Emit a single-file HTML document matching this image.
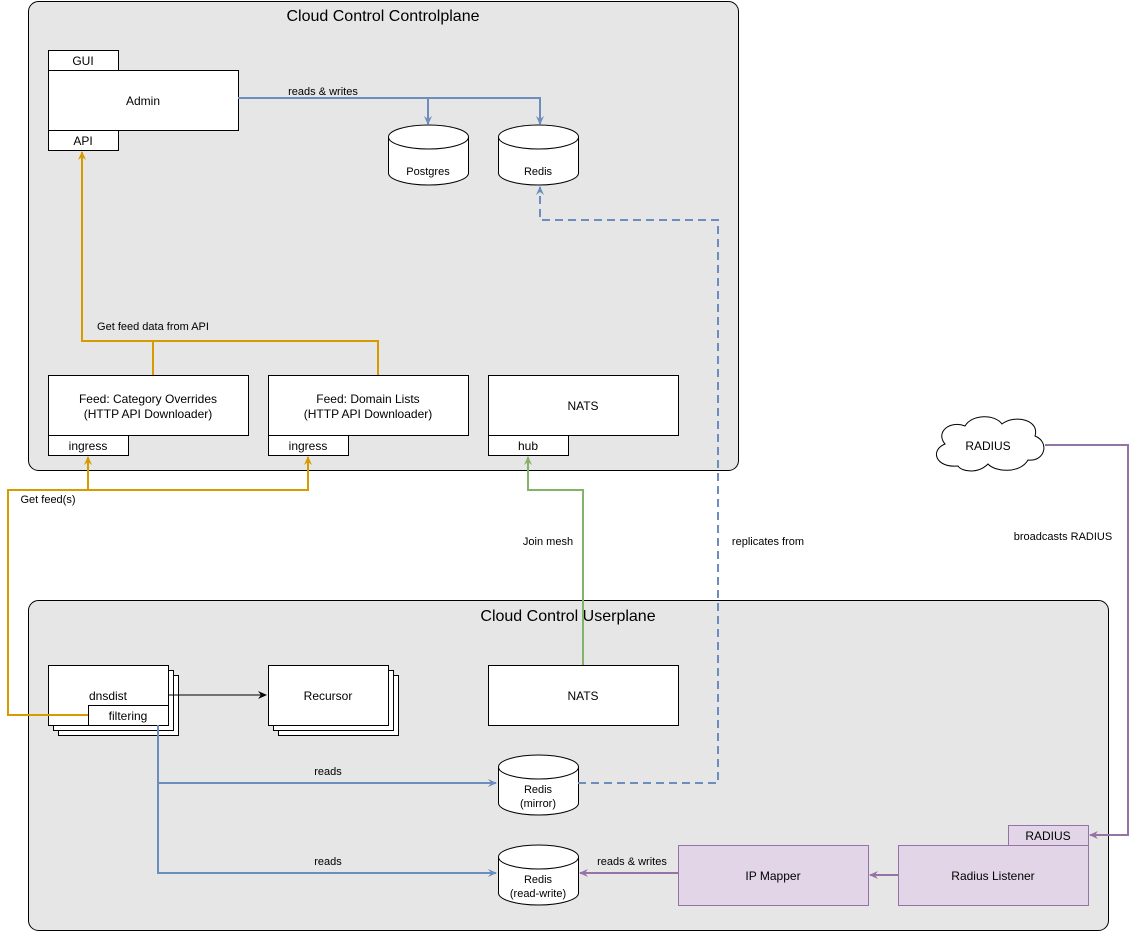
<!DOCTYPE html>
<html><head><meta charset="utf-8"><style>body{margin:0;background:#fff}svg{display:block}text{font-family:"Liberation Sans",Arial,sans-serif}</style></head>
<body>
<svg width="1141" height="931" viewBox="0 0 1141 931" xmlns="http://www.w3.org/2000/svg">
<defs>
<marker id="ab" markerWidth="10" markerHeight="10" refX="8" refY="5" orient="auto" markerUnits="userSpaceOnUse"><path d="M0,1 L9,5 L0,9 L3,5z" fill="#6c8ebf"/></marker>
<marker id="ao" markerWidth="10" markerHeight="10" refX="8" refY="5" orient="auto" markerUnits="userSpaceOnUse"><path d="M0,1 L9,5 L0,9 L3,5z" fill="#d79b00"/></marker>
<marker id="ag" markerWidth="10" markerHeight="10" refX="8" refY="5" orient="auto" markerUnits="userSpaceOnUse"><path d="M0,1 L9,5 L0,9 L3,5z" fill="#82b366"/></marker>
<marker id="ap" markerWidth="10" markerHeight="10" refX="8" refY="5" orient="auto" markerUnits="userSpaceOnUse"><path d="M0,1 L9,5 L0,9 L3,5z" fill="#9673a6"/></marker>
<marker id="ak" markerWidth="10" markerHeight="10" refX="8" refY="5" orient="auto" markerUnits="userSpaceOnUse"><path d="M0,1 L9,5 L0,9 L3,5z" fill="#000"/></marker>
</defs>
<g font-size="12" text-anchor="middle">
<rect x="28.5" y="1.5" width="710" height="469" rx="10" fill="#e6e6e6" stroke="#000"/>
<text x="383" y="21" font-size="16">Cloud Control Controlplane</text>
<rect x="28.5" y="600.5" width="1080" height="330" rx="10" fill="#e6e6e6" stroke="#000"/>
<text x="568" y="621" font-size="16">Cloud Control Userplane</text>

<g fill="#fff" stroke="#000">
<rect x="48.5" y="50.5" width="70" height="20"/><rect x="48.5" y="70.5" width="190" height="60"/><rect x="48.5" y="130.5" width="70" height="20"/>
<rect x="48.5" y="375.5" width="200" height="60"/><rect x="48.5" y="435.5" width="80" height="20"/>
<rect x="268.5" y="375.5" width="200" height="60"/><rect x="268.5" y="435.5" width="80" height="20"/>
<rect x="488.5" y="375.5" width="190" height="60"/><rect x="488.5" y="435.5" width="80" height="20"/>
<rect x="58.5" y="675.5" width="120" height="60"/><rect x="53.5" y="670.5" width="120" height="60"/><rect x="48.5" y="665.5" width="120" height="60"/><rect x="88.5" y="705.5" width="80" height="20"/>
<rect x="278.5" y="675.5" width="120" height="60"/><rect x="273.5" y="670.5" width="120" height="60"/><rect x="268.5" y="665.5" width="120" height="60"/>
<rect x="488.5" y="665.5" width="190" height="60"/>
</g>
<g fill="#fff" stroke="#000">
<path d="M388.5,137 A40,12 0 0 1 468.5,137 V173 A40,12 0 0 1 388.5,173 Z"/><path d="M388.5,137 A40,12 0 0 0 468.5,137" fill="none"/>
<path d="M498.5,137 A40,12 0 0 1 578.5,137 V173 A40,12 0 0 1 498.5,173 Z"/><path d="M498.5,137 A40,12 0 0 0 578.5,137" fill="none"/>
<path d="M498.5,767 A40,12 0 0 1 578.5,767 V803 A40,12 0 0 1 498.5,803 Z"/><path d="M498.5,767 A40,12 0 0 0 578.5,767" fill="none"/>
<path d="M498.5,857 A40,12 0 0 1 578.5,857 V893 A40,12 0 0 1 498.5,893 Z"/><path d="M498.5,857 A40,12 0 0 0 578.5,857" fill="none"/>
</g>
<g fill="#e1d5e7" stroke="#9673a6">
<rect x="678.5" y="845.5" width="190" height="60"/><rect x="898.5" y="845.5" width="190" height="60"/><rect x="1008.5" y="825.5" width="80" height="20"/>
</g>
<path d="M958,466 C935,468 930,450 945,444 C935,432 950,420 965,426 C972,414 995,414 1002,424 C1015,414 1040,420 1035,436 C1050,442 1045,462 1028,460 C1020,474 995,472 988,464 C978,474 962,472 958,466 Z" fill="#fff" stroke="#000"/>

<g fill="#000">
<text x="83" y="65">GUI</text><text x="143" y="105">Admin</text><text x="83" y="145">API</text>
<text x="428" y="175" font-size="11">Postgres</text><text x="538" y="175" font-size="11">Redis</text>
<text x="148" y="403">Feed: Category Overrides</text><text x="148" y="418">(HTTP API Downloader)</text><text x="88" y="450">ingress</text>
<text x="368" y="403">Feed: Domain Lists</text><text x="368" y="418">(HTTP API Downloader)</text><text x="308" y="450">ingress</text>
<text x="583" y="410">NATS</text><text x="528" y="450">hub</text>
<text x="108" y="700">dnsdist</text><text x="128" y="720">filtering</text>
<text x="328" y="700">Recursor</text><text x="583" y="700">NATS</text>
<text x="538" y="793" font-size="11">Redis</text><text x="538" y="807" font-size="11">(mirror)</text>
<text x="538" y="883" font-size="11">Redis</text><text x="538" y="897" font-size="11">(read-write)</text>
<text x="773" y="880">IP Mapper</text><text x="993" y="880">Radius Listener</text><text x="1048" y="840">RADIUS</text>
<text x="988" y="450">RADIUS</text>
</g>
<g fill="none" stroke-width="2">
<path d="M238,98 H540 V124" stroke="#6c8ebf" marker-end="url(#ab)"/>
<path d="M428,98 V124" stroke="#6c8ebf" marker-end="url(#ab)"/>
<path d="M153,375 V341 H82 V152" stroke="#d79b00" marker-end="url(#ao)"/>
<path d="M378,375 V341 H153" stroke="#d79b00"/>
<path d="M88,715 H8 V490 H308 V457" stroke="#d79b00" marker-end="url(#ao)"/>
<path d="M88,490 V457" stroke="#d79b00" marker-end="url(#ao)"/>
<path d="M583,665 V490 H528 V457" stroke="#82b366" marker-end="url(#ag)"/>
<path d="M578,783 H718 V220 H540 V187" stroke="#6c8ebf" stroke-dasharray="8,5" marker-end="url(#ab)"/>
<path d="M158,725 V873 H496" stroke="#6c8ebf" marker-end="url(#ab)"/>
<path d="M158,783 H496" stroke="#6c8ebf" marker-end="url(#ab)"/>
<path d="M678,873 H580" stroke="#9673a6" marker-end="url(#ap)"/>
<path d="M898,875 H870" stroke="#9673a6" marker-end="url(#ap)"/>
<path d="M1045,445 H1128 V835 H1090" stroke="#9673a6" marker-end="url(#ap)"/>
<path d="M168,695 H266" stroke="#000" stroke-width="1" marker-end="url(#ak)"/>
</g>
<g font-size="11" fill="#000">
<rect x="283" y="84" width="80" height="12" fill="#e6e6e6"/>
<text x="323" y="95">reads &amp; writes</text>
<rect x="90" y="319" width="126" height="13" fill="#e6e6e6"/>
<text x="153" y="330">Get feed data from API</text>
<text x="48" y="503">Get feed(s)</text>
<text x="548" y="545">Join mesh</text>
<text x="768" y="545">replicates from</text>
<text x="1063" y="540">broadcasts RADIUS</text>
<text x="328" y="775">reads</text>
<text x="328" y="865">reads</text>
<text x="632" y="865">reads &amp; writes</text>
</g>
</g>
</svg>
</body></html>
